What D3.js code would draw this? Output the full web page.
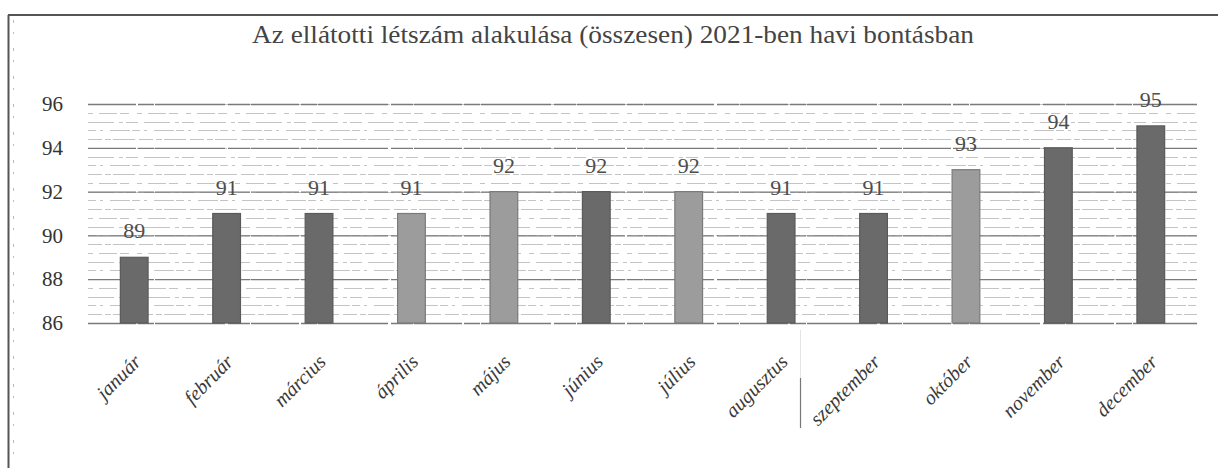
<!DOCTYPE html>
<html>
<head>
<meta charset="utf-8">
<script src="https://cdn.jsdelivr.net/npm/d3@7"></script>
<style>
  html, body { margin: 0; padding: 0; background: #fff; }
  svg { display: block; }
  svg text { font-family: "Liberation Serif", "DejaVu Serif", serif !important; }
</style>
</head>
<body>
<svg id="chart" width="1218" height="468"></svg>
<script>
// Monthly headcount of clients, 2021
const months = ["január", "február", "március", "április", "május", "június",
                "július", "augusztus", "szeptember", "október", "november", "december"];
const headcount = [89, 91, 91, 91, 92, 92, 92, 91, 91, 93, 94, 95];
// months drawn with the lighter fill
const lightMonths = ["április", "május", "július", "október"];
const yTicks = [86, 88, 90, 92, 94, 96];
const title = "Az ellátotti létszám alakulása (összesen) 2021-ben havi bontásban";

const svg = d3.select("#chart");
const W = 1218, H = 468;
const plot = { left: 88, right: 1197, top: 104, bottom: 323 };

const x = d3.scaleBand().domain(months)
  .range([plot.left, plot.right])
  .paddingInner(0.7).paddingOuter(0.35);
const y = d3.scaleLinear().domain([86, 96]).range([plot.bottom, plot.top]);

// chart frame (top and left edges)
svg.append("line").attr("x1", 8).attr("x2", W).attr("y1", 15).attr("y2", 15)
  .attr("stroke", "#555").attr("stroke-width", 2);
svg.append("line").attr("x1", 8.5).attr("x2", 8.5).attr("y1", 15).attr("y2", H)
  .attr("stroke", "#555").attr("stroke-width", 2);
svg.append("line").attr("x1", 13.5).attr("x2", 13.5).attr("y1", 20).attr("y2", H)
  .attr("stroke", "#bbb").attr("stroke-width", 1).attr("stroke-dasharray", "3 9 2 14");

// title
svg.append("text")
  .attr("x", 613).attr("y", 43)
  .attr("text-anchor", "middle")
  .attr("font-size", 25)
  .attr("fill", "#444")
  .attr("textLength", 722).attr("lengthAdjust", "spacingAndGlyphs")
  .text(title);

// hatched plot-area fill: fine dashed horizontal rules
const fine = d3.range(plot.top, plot.bottom, (plot.bottom - plot.top) / 25);
const dashSets = ["14 3 6 2 22 4", "5 6 18 3 9 8", "26 5 4 3 12 6", "8 4 3 7 20 2"];
svg.append("g").selectAll("line").data(fine).join("line")
  .attr("x1", plot.left).attr("x2", plot.right)
  .attr("y1", d => Math.round(d) + 0.5).attr("y2", d => Math.round(d) + 0.5)
  .attr("stroke", "#c4c4c4").attr("stroke-width", 1)
  .attr("stroke-dasharray", (d, i) => dashSets[i % dashSets.length]);

// major gridlines
const grid = d3.axisLeft(y).tickValues(yTicks).tickSize(-(plot.right - plot.left)).tickFormat("");
const gg = svg.append("g").attr("transform", `translate(${plot.left},0)`).call(grid);
gg.select(".domain").remove();
gg.selectAll(".tick line")
  .attr("stroke", "#7a7a7a").attr("stroke-width", 1.3)
  .attr("stroke-dasharray", "48 2 16 1 70 3 22 1");

// y axis labels
const yAxis = d3.axisLeft(y).tickValues(yTicks).tickSize(0).tickPadding(25);
const ya = svg.append("g").attr("transform", `translate(${plot.left},0)`).call(yAxis);
ya.select(".domain").remove();
ya.selectAll(".tick text")
  .attr("font-size", 21).attr("fill", "#333");

// bars
svg.append("g").selectAll("rect").data(months).join("rect")
  .attr("x", d => x(d))
  .attr("width", x.bandwidth())
  .attr("y", (d, i) => y(headcount[i]))
  .attr("height", (d, i) => y(86) - y(headcount[i]))
  .attr("fill", d => lightMonths.includes(d) ? "#9c9c9c" : "#6a6a6a")
  .attr("stroke", d => lightMonths.includes(d) ? "#7a7a7a" : "#5a5a5a")
  .attr("stroke-width", 1.2);

// value labels
svg.append("g").selectAll("text").data(months).join("text")
  .attr("x", d => x(d) + x.bandwidth() / 2)
  .attr("y", (d, i) => y(headcount[i]) - 19)
  .attr("text-anchor", "middle")
  .attr("font-size", 22)
  .attr("fill", "#4d4d4d")
  .text((d, i) => headcount[i]);

// rotated month labels
svg.append("g").selectAll("text").data(months).join("text")
  .attr("transform", d => `translate(${x(d) + x.bandwidth() / 2 + 8},363) rotate(-45)`)
  .attr("text-anchor", "end")
  .attr("font-size", 20)
  .attr("font-style", "italic")
  .attr("fill", "#3a3a3a")
  .text(d => d);

// faint paper fold
svg.append("line").attr("x1", 800.5).attr("x2", 800.5).attr("y1", 330).attr("y2", 378)
  .attr("stroke", "#e4e4e4").attr("stroke-width", 1);
svg.append("line").attr("x1", 800.5).attr("x2", 800.5).attr("y1", 378).attr("y2", 428)
  .attr("stroke", "#777").attr("stroke-width", 1.2);
</script>
</body>
</html>
